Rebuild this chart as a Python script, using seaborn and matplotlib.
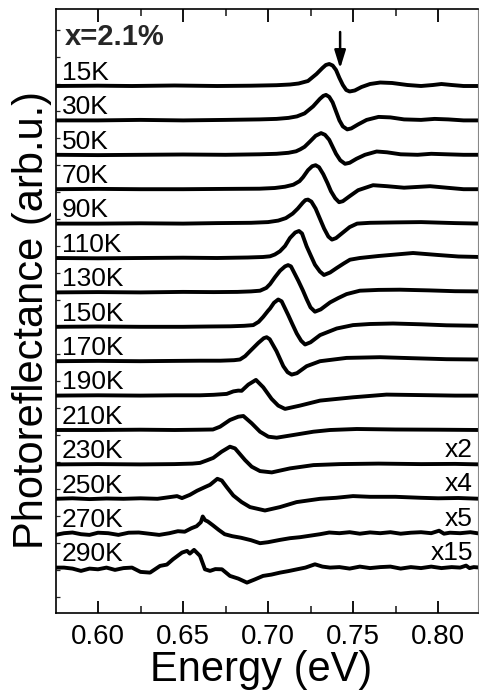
import numpy as np
import pandas as pd
import matplotlib
matplotlib.use("Agg")
import matplotlib.pyplot as plt
from matplotlib.ticker import MultipleLocator
import seaborn as sns

# ---------------- data ----------------
temps = ["15K", "30K", "50K", "70K", "90K", "110K", "130K", "150K",
         "170K", "190K", "210K", "230K", "250K", "270K", "290K"]
scale_labels = ["", "", "", "", "", "", "", "", "", "", "", "x2", "x4", "x5", "x15"]

E15 = [0.575, 0.600, 0.620, 0.645, 0.670, 0.690, 0.705, 0.713, 0.718, 0.7235, 0.7285, 0.732, 0.734, 0.736, 0.738,
       0.740, 0.742, 0.744, 0.746, 0.748, 0.751, 0.755, 0.760, 0.766, 0.773, 0.782, 0.790, 0.797, 0.802, 0.808, 0.815, 0.825]
V15 = [0.0, 0.03, 0.0, 0.05, 0.0, 0.03, 0.08, 0.15, 0.25, 0.5, 1.2, 1.8, 2.1, 2.2, 2.05,
       1.6, 0.8, 0.1, -0.4, -0.55, -0.45, -0.1, 0.2, 0.35, 0.3, 0.1, 0.0, 0.1, 0.2, 0.1, 0.0, 0.0]

E30 = [0.575, 0.600, 0.625, 0.650, 0.675, 0.695, 0.705, 0.712, 0.717, 0.7215, 0.7265, 0.7305, 0.7325, 0.7341, 0.736,
       0.738, 0.740, 0.742, 0.744, 0.7466, 0.749, 0.753, 0.758, 0.765, 0.772, 0.780, 0.790, 0.798, 0.806, 0.815, 0.825]
V30 = [0.0, 0.0, 0.05, 0.0, 0.05, 0.1, 0.15, 0.25, 0.4, 0.7, 1.4, 2.15, 2.45, 2.55, 2.35,
       1.8, 0.9, 0.0, -0.6, -0.9, -0.8, -0.4, 0.05, 0.35, 0.3, 0.1, 0.05, 0.15, 0.1, 0.0, 0.0]

E50 = [0.575, 0.600, 0.625, 0.650, 0.675, 0.695, 0.705, 0.712, 0.7165, 0.719, 0.7215, 0.7247, 0.728, 0.7312, 0.7335,
       0.736, 0.738, 0.740, 0.7425, 0.7453, 0.748, 0.752, 0.757, 0.7639, 0.770, 0.778, 0.788, 0.796, 0.805, 0.815, 0.825]
V50 = [0.0, -0.03, 0.0, 0.03, 0.0, 0.05, 0.1, 0.2, 0.35, 0.55, 0.8, 1.33, 1.9, 2.17, 2.0,
       1.5, 0.8, 0.1, -0.55, -0.9, -0.8, -0.4, 0.0, 0.33, 0.25, 0.05, 0.0, 0.1, 0.05, 0.0, 0.0]

E70 = [0.575, 0.600, 0.625, 0.650, 0.675, 0.695, 0.704, 0.710, 0.7149, 0.7185, 0.7206, 0.7235, 0.726, 0.728, 0.730,
       0.7325, 0.735, 0.737, 0.7395, 0.7418, 0.744, 0.748, 0.753, 0.7618, 0.770, 0.780, 0.7953, 0.805, 0.815, 0.825]
V70 = [0.0, 0.03, 0.0, 0.0, 0.03, 0.05, 0.12, 0.25, 0.45, 0.8, 1.2, 1.9, 2.3, 2.4, 2.2,
       1.5, 0.6, -0.2, -0.9, -1.3, -1.2, -0.7, -0.1, 0.4, 0.3, 0.15, 0.3, 0.15, 0.0, 0.0]

E90 = [0.575, 0.600, 0.625, 0.650, 0.670, 0.690, 0.700, 0.706, 0.7105, 0.7145, 0.7175, 0.7205, 0.722, 0.7235, 0.7255,
       0.728, 0.7305, 0.733, 0.7355, 0.7376, 0.740, 0.744, 0.748, 0.7524, 0.760, 0.775, 0.790, 0.800, 0.810, 0.825]
V90 = [0.0, 0.0, 0.03, 0.0, 0.05, 0.08, 0.15, 0.3, 0.55, 1.0, 1.5, 2.1, 2.35, 2.4, 2.2,
       1.5, 0.5, -0.5, -1.3, -1.6, -1.45, -0.9, -0.35, 0.0, 0.08, 0.12, 0.15, 0.1, 0.05, 0.0]

E110 = [0.575, 0.600, 0.625, 0.650, 0.670, 0.688, 0.697, 0.7012, 0.704, 0.707, 0.7100, 0.7129, 0.716, 0.7182, 0.720,
        0.7227, 0.725, 0.7276, 0.7305, 0.7329, 0.7365, 0.7404, 0.7445, 0.7482, 0.754, 0.765, 0.7853, 0.800, 0.812, 0.825]
V110 = [0.0, -0.03, 0.0, 0.03, 0.0, 0.05, 0.1, 0.17, 0.35, 0.67, 1.2, 2.0, 2.55, 2.7, 2.45,
        1.17, 0.3, -0.67, -1.35, -1.7, -1.45, -1.0, -0.55, -0.17, 0.0, 0.2, 0.5, 0.3, 0.15, 0.1]

E130 = [0.575, 0.600, 0.625, 0.650, 0.668, 0.682, 0.690, 0.6953, 0.699, 0.7012, 0.704, 0.7071, 0.710, 0.7118, 0.7135,
        0.7178, 0.7205, 0.7227, 0.7250, 0.7276, 0.731, 0.7365, 0.7415, 0.7462, 0.754, 0.765, 0.7776, 0.795, 0.810, 0.825]
V130 = [0.0, 0.03, 0.0, 0.05, 0.03, 0.05, 0.1, 0.17, 0.45, 0.83, 1.5, 2.17, 2.6, 2.73, 2.6,
        1.17, 0.2, -0.67, -1.5, -1.93, -1.7, -1.0, -0.55, -0.17, 0.17, 0.25, 0.27, 0.2, 0.12, 0.1]

E150 = [0.575, 0.600, 0.625, 0.650, 0.665, 0.678, 0.686, 0.6913, 0.6945, 0.6972, 0.700, 0.7012, 0.7035, 0.706, 0.708,
        0.7119, 0.7145, 0.7169, 0.7195, 0.7218, 0.725, 0.7306, 0.7404, 0.750, 0.760, 0.7735, 0.790, 0.805, 0.825]
V150 = [0.0, 0.03, 0.0, 0.0, 0.03, 0.05, 0.1, 0.17, 0.5, 1.0, 1.6, 1.83, 2.4, 2.73, 2.55,
        1.17, 0.2, -0.67, -1.4, -1.77, -1.55, -0.83, -0.17, 0.17, 0.28, 0.33, 0.25, 0.15, 0.1]

E170 = [0.575, 0.600, 0.625, 0.645, 0.660, 0.672, 0.680, 0.6835, 0.6865, 0.6894, 0.6943, 0.6975, 0.6992, 0.701, 0.705,
        0.709, 0.7115, 0.7139, 0.717, 0.7227, 0.7306, 0.7462, 0.7659, 0.785, 0.805, 0.825]
V170 = [0.0, 0.03, 0.0, 0.03, 0.05, 0.05, 0.1, 0.17, 0.5, 1.0, 1.83, 2.3, 2.4, 2.2, 1.0,
        -0.5, -1.1, -1.34, -1.2, -0.5, 0.0, 0.33, 0.4, 0.3, 0.2, 0.17]

E190 = [0.575, 0.600, 0.625, 0.645, 0.660, 0.668, 0.6757, 0.6796, 0.6825, 0.6845, 0.6884, 0.6929, 0.6972, 0.7021, 0.706,
        0.710, 0.7188, 0.7306, 0.750, 0.7697, 0.790, 0.810, 0.825]
V190 = [0.0, 0.03, 0.0, 0.03, 0.03, 0.08, 0.17, 0.42, 0.5, 0.48, 1.1, 1.57, 0.83, -0.33, -1.0,
        -1.33, -1.0, -0.5, -0.17, 0.1, 0.05, 0.0, 0.0]

E210 = [0.575, 0.600, 0.625, 0.645, 0.660, 0.6676, 0.6718, 0.6776, 0.6825, 0.6855, 0.6904, 0.6953, 0.7002, 0.7051, 0.7149,
        0.7267, 0.7365, 0.7522, 0.775, 0.800, 0.825]
V210 = [0.0, 0.0, 0.03, 0.0, 0.03, 0.05, 0.33, 1.0, 1.33, 1.4, 0.67, -0.17, -0.67, -0.77, -0.5,
        -0.17, 0.0, 0.1, 0.05, 0.03, 0.0]

E230 = [0.575, 0.600, 0.625, 0.645, 0.6555, 0.660, 0.664, 0.6678, 0.6727, 0.6776, 0.6806, 0.6865, 0.6904, 0.6953, 0.7022,
        0.7129, 0.7267, 0.7424, 0.765, 0.790, 0.810, 0.825]
V230 = [0.0, 0.03, 0.0, 0.03, 0.08, 0.15, 0.4, 0.65, 1.27, 1.77, 1.6, 0.43, -0.23, -0.67, -0.8,
        -0.4, -0.07, 0.03, 0.08, 0.03, 0.05, 0.0]

E250 = [0.575, 0.585, 0.595, 0.605, 0.615, 0.625, 0.635, 0.6465, 0.6494, 0.6541, 0.6582, 0.6629, 0.6659, 0.6702, 0.6728,
        0.6757, 0.6796, 0.6845, 0.6894, 0.6982, 0.707, 0.7168, 0.7306, 0.740, 0.750, 0.760, 0.775, 0.790, 0.800, 0.812, 0.825]
V250 = [0.0, 0.05, -0.03, 0.03, 0.0, 0.05, 0.0, 0.27, 0.07, 0.4, 0.8, 1.17, 1.4, 2.0, 1.83,
        1.17, 0.33, -0.33, -0.83, -1.17, -0.83, -0.33, 0.0, 0.1, 0.27, 0.2, 0.2, 0.1, 0.05, 0.08, 0.0]

E270 = [0.575, 0.580, 0.585, 0.590, 0.595, 0.600, 0.606, 0.612, 0.618, 0.624, 0.630, 0.636, 0.642, 0.647, 0.651,
        0.655, 0.658, 0.6605, 0.6616, 0.663, 0.6646, 0.6675, 0.671, 0.6745, 0.679, 0.684, 0.690, 0.6953, 0.700, 0.707,
        0.7129, 0.7188, 0.7247, 0.7306, 0.736, 0.742, 0.748, 0.754, 0.760, 0.766, 0.772, 0.778, 0.784, 0.790, 0.796,
        0.8006, 0.8035, 0.807, 0.813, 0.819, 0.825]
V270 = [-0.17, 0.0, 0.07, -0.1, -0.17, 0.05, 0.0, -0.17, 0.05, 0.07, -0.05, -0.17, 0.0, 0.2, 0.15,
        0.5, 0.7, 1.1, 1.67, 1.3, 1.17, 0.8, 0.33, -0.1, -0.3, -0.45, -0.7, -1.0, -0.9, -0.67,
        -0.5, -0.4, -0.25, -0.1, 0.07, 0.0, 0.1, -0.05, 0.08, 0.0, 0.1, -0.05, 0.05, 0.1, 0.0,
        0.25, -0.05, 0.05, 0.0, 0.1, -0.05]

E290 = [0.575, 0.580, 0.585, 0.590, 0.595, 0.600, 0.605, 0.610, 0.615, 0.620, 0.625, 0.6306, 0.6365, 0.6405, 0.6441,
        0.6494, 0.6524, 0.654, 0.6565, 0.660, 0.6629, 0.6659, 0.669, 0.6729, 0.6776, 0.6825, 0.6876, 0.692, 0.6971, 0.702,
        0.7071, 0.712, 0.7171, 0.722, 0.7276, 0.732, 0.7365, 0.742, 0.748, 0.754, 0.760, 0.766, 0.772, 0.778, 0.784,
        0.790, 0.796, 0.802, 0.808, 0.813, 0.8165, 0.8185, 0.821, 0.825]
V290 = [0.0, 0.0, -0.1, -0.33, -0.1, -0.17, 0.0, -0.23, -0.05, 0.0, -0.43, -0.5, 0.17, 0.3, 0.83,
        1.5, 1.67, 1.4, 1.77, 1.17, -0.17, -0.33, -0.15, -0.17, -0.83, -1.1, -1.5, -1.2, -0.83, -0.7,
        -0.5, -0.35, -0.17, 0.0, 0.33, 0.1, 0.0, 0.05, -0.1, 0.1, -0.05, 0.05, 0.1, -0.1, 0.05,
        -0.05, 0.1, -0.05, 0.05, 0.0, 0.2, -0.05, 0.05, 0.0]

energies = [E15, E30, E50, E70, E90, E110, E130, E150, E170, E190, E210, E230, E250, E270, E290]
signals = [V15, V30, V50, V70, V90, V110, V130, V150, V170, V190, V210, V230, V250, V270, V290]

xtick_values = [0.60, 0.65, 0.70, 0.75, 0.80]

# ---------------- style ----------------
sns.set_theme(style="ticks")
plt.rcParams["font.family"] = ["Liberation Sans", "DejaVu Sans"]
plt.rcParams["axes.linewidth"] = 1.2

SPACING = 3.44  # vertical offset between consecutive spectra

rows = []
for i, (t, e, v) in enumerate(zip(temps, energies, signals)):
    off = -SPACING * i
    for ee, vv in zip(e, v):
        rows.append({"energy": ee, "signal": vv + off, "temp": t})
df = pd.DataFrame(rows)

fig = plt.figure(figsize=(4.79, 6.97), dpi=100)
ax = fig.add_axes([56 / 479, 1 - 613 / 697, (478 - 56) / 479, (613 - 9) / 697])

sns.lineplot(data=df, x="energy", y="signal", units="temp", estimator=None,
             sort=False, color="black", linewidth=2.8, ax=ax, legend=False)
for line in ax.get_lines():
    line.set_solid_joinstyle("round")
    line.set_solid_capstyle("round")

ax.set_xlim(0.5753, 0.8235)
ax.set_ylim(-52.7, 7.7)

ax.set_xticks(xtick_values)
ax.set_xticklabels([f"{v:.2f}" for v in xtick_values])
ax.xaxis.set_minor_locator(MultipleLocator(0.025))
ax.tick_params(axis="x", which="major", direction="in", length=9, width=1.3,
               top=True, bottom=True, labelsize=20, pad=8, colors="black")
ax.tick_params(axis="x", which="minor", direction="in", length=5, width=1.2,
               top=True, bottom=True)
ax.set_yticks(np.arange(-51.1, 7.6, 2.7))
ax.tick_params(axis="y", which="major", direction="in", length=3, width=0.9,
               left=True, right=False, labelleft=False)

for sp in ax.spines.values():
    sp.set_color("black")
ax.spines["right"].set_linewidth(0.8)
ax.spines["right"].set_color("#888888")

# temperature and scale labels
for i, (t, s) in enumerate(zip(temps, scale_labels)):
    off = -SPACING * i
    ax.text(0.5787, off + 0.62, t, fontsize=19, ha="left", va="baseline", color="black")
    if s:
        ax.text(0.8206, off + 0.75, s, fontsize=19, ha="right", va="baseline", color="black")

ax.text(0.5806, 4.1, "x=2.1%", fontsize=21, fontweight="bold", ha="left", va="baseline")

ax.annotate("", xy=(0.7424, 1.75), xytext=(0.7424, 5.4),
            arrowprops=dict(arrowstyle="-|>,head_length=0.9,head_width=0.28",
                            color="black", lw=1.8, shrinkA=0, shrinkB=0))

ax.set_xlabel("Energy (eV)", fontsize=30, color="black")
ax.set_ylabel("Photoreflectance (arb.u.)", fontsize=30, color="black")
ax.xaxis.set_label_coords(0.487, -0.062)
ax.yaxis.set_label_coords(-0.01, 0.485)

fig.savefig("out.png", dpi=100)
